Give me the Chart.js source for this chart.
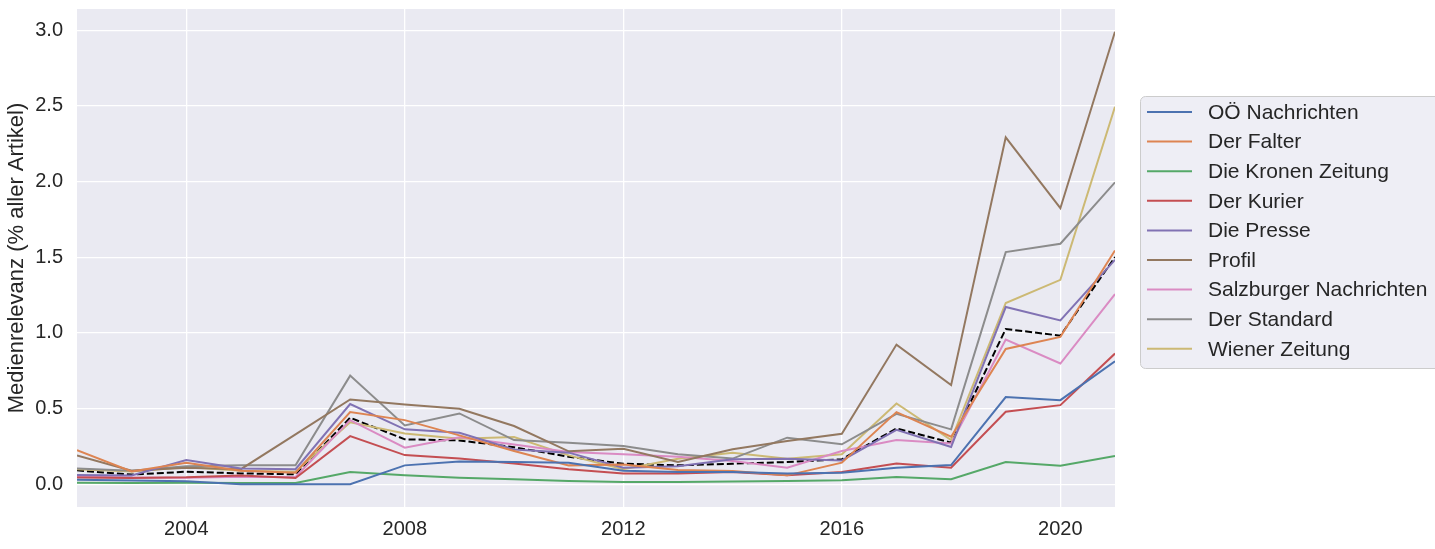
<!DOCTYPE html>
<html>
<head>
<meta charset="utf-8">
<script src="https://cdn.jsdelivr.net/npm/chart.js@4.4.1/dist/chart.umd.min.js"></script>
<style>
    html, body {
        margin: 0;
        padding: 0;
        background: #ffffff;
    }
    #wrap {
        position: relative;
        width: 1435px;
        height: 549px;
    }
</style>
</head>
<body>
<div id="wrap">
    <canvas id="medienChart"></canvas>
</div>
<script>
/* ==========================================
   Data
========================================== */

const years = [
    2002, 2003, 2004, 2005, 2006, 2007, 2008, 2009, 2010, 2011,
    2012, 2013, 2014, 2015, 2016, 2017, 2018, 2019, 2020, 2021
];

const ooeNachrichten = [0.030, 0.025, 0.020, 0.000, 0.000, 0.000, 0.125, 0.150, 0.147, 0.143, 0.090, 0.081, 0.081, 0.072, 0.077, 0.110, 0.127, 0.576, 0.556, 0.813];
const derFalter = [0.226, 0.085, 0.143, 0.090, 0.077, 0.477, 0.424, 0.323, 0.220, 0.125, 0.130, 0.094, 0.088, 0.059, 0.143, 0.477, 0.314, 0.894, 0.974, 1.545];
const kronenZeitung = [0.011, 0.008, 0.011, 0.008, 0.008, 0.081, 0.059, 0.044, 0.033, 0.022, 0.015, 0.015, 0.018, 0.022, 0.026, 0.048, 0.033, 0.147, 0.123, 0.187];
const derKurier = [0.045, 0.042, 0.046, 0.058, 0.042, 0.318, 0.193, 0.170, 0.138, 0.100, 0.072, 0.072, 0.081, 0.059, 0.081, 0.138, 0.110, 0.479, 0.523, 0.864];
const diePresse = [0.062, 0.058, 0.160, 0.105, 0.100, 0.530, 0.363, 0.341, 0.230, 0.209, 0.110, 0.120, 0.165, 0.169, 0.158, 0.360, 0.246, 1.171, 1.083, 1.483];
const profil = [0.190, 0.090, 0.110, 0.100, 0.330, 0.560, 0.527, 0.499, 0.385, 0.218, 0.235, 0.147, 0.231, 0.286, 0.334, 0.923, 0.655, 2.292, 1.824, 2.990];
const salzburger = [0.052, 0.045, 0.044, 0.050, 0.048, 0.424, 0.242, 0.310, 0.263, 0.213, 0.198, 0.182, 0.154, 0.110, 0.220, 0.292, 0.270, 0.956, 0.798, 1.257];
const derStandard = [0.105, 0.090, 0.120, 0.125, 0.125, 0.718, 0.389, 0.468, 0.292, 0.275, 0.253, 0.198, 0.170, 0.308, 0.264, 0.466, 0.363, 1.534, 1.589, 1.995];
const wienerZeitung = [0.100, 0.085, 0.115, 0.090, 0.083, 0.410, 0.336, 0.301, 0.312, 0.191, 0.099, 0.169, 0.209, 0.169, 0.198, 0.534, 0.292, 1.198, 1.351, 2.494];
const mittelwert = [0.092, 0.064, 0.083, 0.072, 0.066, 0.440, 0.297, 0.290, 0.245, 0.182, 0.136, 0.125, 0.136, 0.147, 0.165, 0.369, 0.275, 1.026, 0.982, 1.501];

const seriesLabels = [
    "OÖ Nachrichten",
    "Der Falter",
    "Die Kronen Zeitung",
    "Der Kurier",
    "Die Presse",
    "Profil",
    "Salzburger Nachrichten",
    "Der Standard",
    "Wiener Zeitung"
];

const seriesValues = [
    ooeNachrichten,
    derFalter,
    kronenZeitung,
    derKurier,
    diePresse,
    profil,
    salzburger,
    derStandard,
    wienerZeitung
];

const xTicks = [2004, 2008, 2012, 2016, 2020];
const yTicks = [0, 0.5, 1.0, 1.5, 2.0, 2.5, 3.0];

const yTitle = "Medienrelevanz (% aller Artikel)";

/* ==========================================
   Style
========================================== */

const palette = [
    "#4C72B0",
    "#DD8452",
    "#55A868",
    "#C44E52",
    "#8172B3",
    "#937860",
    "#DA8BC3",
    "#8C8C8C",
    "#CCB974"
];

const textColor = "#262626";
const fontFamily = "'Liberation Sans', Arial, sans-serif";

function toPoints(values) {
    return values.map((v, i) => ({ x: years[i], y: v }));
}

const datasets = seriesLabels.map((label, i) => ({
    label: label,
    data: toPoints(seriesValues[i]),
    borderColor: palette[i],
    backgroundColor: palette[i],
    borderWidth: 2,
    pointRadius: 0,
    tension: 0,
    fill: false
}));

datasets.push({
    label: "Mittelwert",
    data: toPoints(mittelwert),
    borderColor: "#000000",
    borderWidth: 2,
    borderDash: [7, 3],
    pointRadius: 0,
    tension: 0,
    fill: false,
    hideInLegend: true
});

/* ==========================================
   Plugins
========================================== */

// grey plot background (seaborn darkgrid)
const plotBackground = {
    id: "plotBackground",
    beforeDraw(chart) {
        const { ctx, chartArea } = chart;
        ctx.save();
        ctx.fillStyle = "#EAEAF2";
        ctx.fillRect(chartArea.left, chartArea.top, chartArea.right - chartArea.left, chartArea.bottom - chartArea.top);
        ctx.restore();
    }
};

// legend box drawn to the right of the plot
const sideLegend = {
    id: "sideLegend",
    afterDraw(chart) {
        const ctx = chart.ctx;
        const items = chart.data.datasets.filter(ds => !ds.hideInLegend);

        const boxX = 1140;
        const boxY = 96;
        const boxW = 320;
        const boxH = 272;
        const rowY = 112;
        const rowStep = 29.6;

        ctx.save();

        ctx.beginPath();
        ctx.roundRect(boxX + 0.5, boxY + 0.5, boxW, boxH, 5);
        ctx.fillStyle = "#EEEEF5";
        ctx.fill();
        ctx.strokeStyle = "#CCCCCC";
        ctx.lineWidth = 1;
        ctx.stroke();

        ctx.font = "21px " + fontFamily;
        ctx.textBaseline = "middle";
        ctx.textAlign = "left";

        items.forEach((ds, i) => {
            const y = rowY + i * rowStep;

            ctx.beginPath();
            ctx.moveTo(1147, y);
            ctx.lineTo(1192, y);
            ctx.strokeStyle = ds.borderColor;
            ctx.lineWidth = 2;
            ctx.stroke();

            ctx.fillStyle = textColor;
            ctx.fillText(ds.label, 1208, y + 1);
        });

        ctx.restore();
    }
};

/* ==========================================
   Chart
========================================== */

const chartCanvas = document.getElementById("medienChart");

if (chartCanvas) {

    const ctx = chartCanvas.getContext("2d");

    new Chart(ctx, {

        type: "line",

        data: {
            datasets: datasets
        },

        plugins: [plotBackground, sideLegend],

        options: {

            responsive: true,

            maintainAspectRatio: false,

            devicePixelRatio: 1,

            animation: false,

            layout: {
                padding: {
                    left: 0,
                    right: 320,
                    top: 9,
                    bottom: 0
                }
            },

            plugins: {

                legend: {
                    display: false
                },

                tooltip: {
                    enabled: false
                }

            },

            scales: {

                x: {

                    type: "linear",

                    min: 2002,

                    max: 2021,

                    afterBuildTicks: (scale) => {
                        scale.ticks = xTicks.map(v => ({ value: v }));
                    },

                    afterFit: (scale) => {
                        scale.height = 42;
                        scale.paddingLeft = 0;
                        scale.paddingRight = 0;
                    },

                    grid: {
                        color: "#FFFFFF",
                        lineWidth: 1.3,
                        drawTicks: false
                    },

                    border: {
                        display: false
                    },

                    ticks: {
                        padding: 10,
                        color: textColor,
                        font: {
                            family: fontFamily,
                            size: 20
                        },
                        maxRotation: 0,
                        callback: (value) => String(value)
                    }

                },

                y: {

                    type: "linear",

                    min: -0.15,

                    max: 3.14,

                    afterBuildTicks: (scale) => {
                        scale.ticks = yTicks.map(v => ({ value: v }));
                    },

                    afterFit: (scale) => {
                        scale.width = 77;
                        scale.paddingTop = 0;
                        scale.paddingBottom = 0;
                    },

                    grid: {
                        color: "#FFFFFF",
                        lineWidth: 1.3,
                        drawTicks: false
                    },

                    border: {
                        display: false
                    },

                    ticks: {
                        padding: 14,
                        color: textColor,
                        font: {
                            family: fontFamily,
                            size: 20
                        },
                        callback: (value) => Number(value).toFixed(1)
                    },

                    title: {
                        display: true,
                        text: yTitle,
                        color: textColor,
                        padding: {
                            top: 4,
                            bottom: 0
                        },
                        font: {
                            family: fontFamily,
                            size: 22
                        }
                    }

                }

            }

        }

    });

}
</script>
</body>
</html>
